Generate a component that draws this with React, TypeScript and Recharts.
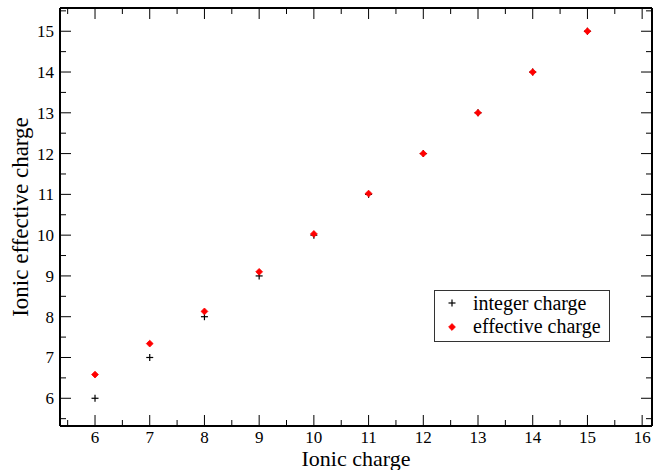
import React from 'react';
import {
  ScatterChart,
  Scatter,
  XAxis,
  YAxis,
  Legend,
  Label
} from 'recharts';

// valeurs
const charges = [6, 7, 8, 9, 10, 11, 12, 13, 14, 15];
const integerCharge = [6, 7, 8, 9, 10, 11, 12, 13, 14, 15];
const effectiveCharge = [6.58, 7.34, 8.13, 9.1, 10.03, 11.02, 12.0, 13.0, 14.0, 15.0];

const xTicks = [5.5, 6, 6.5, 7, 7.5, 8, 8.5, 9, 9.5, 10, 10.5, 11, 11.5, 12, 12.5, 13, 13.5, 14, 14.5, 15, 15.5, 16];
const yTicks = [5.5, 6, 6.5, 7, 7.5, 8, 8.5, 9, 9.5, 10, 10.5, 11, 11.5, 12, 12.5, 13, 13.5, 14, 14.5, 15, 15.5];

const seriesNames = ['integer charge', 'effective charge'];

const integerPoints = charges.map((c, i) => ({ x: c, y: integerCharge[i] }));
const effectivePoints = charges.map((c, i) => ({ x: c, y: effectiveCharge[i] }));

const FONT = '"Liberation Serif", "Times New Roman", serif';
const MAJOR = 11;
const MINOR = 6;
const X_DOMAIN = [5.36, 16.18];
const Y_DOMAIN = [5.32, 15.57];

const tickLen = (v: number) => (Number.isInteger(v) ? MAJOR : MINOR);

const BottomTick = (props: any) => {
  const { x, y, payload } = props;
  const v = payload.value;
  return (
    <g>
      <line x1={x} y1={y} x2={x} y2={y - tickLen(v)} stroke="#000" strokeWidth={1} />
      {Number.isInteger(v) && (
        <text x={x} y={y + 17} textAnchor="middle" fontFamily={FONT} fontSize={17} fill="#000">
          {v}
        </text>
      )}
    </g>
  );
};

const TopTick = (props: any) => {
  const { x, y, payload } = props;
  return <line x1={x} y1={y} x2={x} y2={y + tickLen(payload.value)} stroke="#000" strokeWidth={1} />;
};

const LeftTick = (props: any) => {
  const { x, y, payload } = props;
  const v = payload.value;
  return (
    <g>
      <line x1={x} y1={y} x2={x + tickLen(v)} y2={y} stroke="#000" strokeWidth={1} />
      {Number.isInteger(v) && (
        <text x={x - 6} y={y + 6} textAnchor="end" fontFamily={FONT} fontSize={17} fill="#000">
          {v}
        </text>
      )}
    </g>
  );
};

const RightTick = (props: any) => {
  const { x, y, payload } = props;
  return <line x1={x} y1={y} x2={x - tickLen(payload.value)} y2={y} stroke="#000" strokeWidth={1} />;
};

const PlusShape = (props: any) => {
  const { cx, cy } = props;
  return (
    <g>
      <line x1={cx - 3.5} y1={cy} x2={cx + 3.5} y2={cy} stroke="#000" strokeWidth={1.2} />
      <line x1={cx} y1={cy - 3.5} x2={cx} y2={cy + 3.5} stroke="#000" strokeWidth={1.2} />
    </g>
  );
};

const DiamondShape = (props: any) => {
  const { cx, cy } = props;
  const r = 3.4;
  return (
    <path
      d={`M${cx},${cy - r} L${cx + r},${cy} L${cx},${cy + r} L${cx - r},${cy} Z`}
      fill="#ff0000"
      stroke="#ff0000"
      strokeWidth={0.8}
    />
  );
};

const LegendBox = () => (
  <svg width={176} height={52} style={{ display: 'block' }}>
    <rect x={0.5} y={0.5} width={175} height={51} fill="#fff" stroke="#333" strokeWidth={1} />
    <PlusShape cx={18} cy={13} />
    <text x={39} y={20} fontFamily={FONT} fontSize={20} fill="#000">{seriesNames[0]}</text>
    <DiamondShape cx={18} cy={37} />
    <text x={39} y={43} fontFamily={FONT} fontSize={20} fill="#000">{seriesNames[1]}</text>
  </svg>
);

const YLabel = (props: any) => {
  const { viewBox } = props;
  const x = viewBox.x + 28;
  const y = viewBox.y + viewBox.height / 2;
  return (
    <text
      x={x}
      y={y}
      transform={`rotate(-90, ${x}, ${y})`}
      textAnchor="middle"
      fontFamily={FONT}
      fontSize={23}
      fill="#000"
    >
      Ionic effective charge
    </text>
  );
};

const XLabel = (props: any) => {
  const { viewBox } = props;
  return (
    <text
      x={viewBox.x + viewBox.width / 2}
      y={viewBox.y + 40}
      textAnchor="middle"
      fontFamily={FONT}
      fontSize={22}
      fill="#000"
    >
      Ionic charge
    </text>
  );
};

const axisLine = { stroke: '#000', strokeWidth: 2 };

export default function App() {
  return (
    <div style={{ position: 'absolute', left: 0, top: 0, width: 653, height: 470, background: '#fff' }}>
      <ScatterChart
        width={653}
        height={470}
        margin={{ top: 7, right: 0, bottom: 0, left: 0 }}
        style={{ fontFamily: FONT }}
      >
        <XAxis
          xAxisId="bottom"
          type="number"
          dataKey="x"
          domain={X_DOMAIN}
          allowDataOverflow
          ticks={xTicks}
          interval={0}
          height={44}
          tickSize={0}
          tickMargin={0}
          tickLine={false}
          axisLine={axisLine}
          tick={BottomTick}
        >
          <Label content={XLabel} />
        </XAxis>
        {/* axes miroir haut/droite : taille 1 px sinon recharts ne les dessine pas */}
        <XAxis
          xAxisId="top"
          orientation="top"
          type="number"
          dataKey="x"
          domain={X_DOMAIN}
          allowDataOverflow
          ticks={xTicks}
          interval={0}
          height={1}
          tickSize={0}
          tickMargin={0}
          tickLine={false}
          axisLine={axisLine}
          tick={TopTick}
        />
        <YAxis
          yAxisId="left"
          type="number"
          dataKey="y"
          domain={Y_DOMAIN}
          allowDataOverflow
          ticks={yTicks}
          interval={0}
          width={60}
          tickSize={0}
          tickMargin={0}
          tickLine={false}
          axisLine={axisLine}
          tick={LeftTick}
        >
          <Label content={YLabel} />
        </YAxis>
        <YAxis
          yAxisId="right"
          orientation="right"
          type="number"
          dataKey="y"
          domain={Y_DOMAIN}
          allowDataOverflow
          ticks={yTicks}
          interval={0}
          width={1}
          tickSize={0}
          tickMargin={0}
          tickLine={false}
          axisLine={axisLine}
          tick={RightTick}
        />
        <Legend
          layout="vertical"
          align="center"
          verticalAlign="middle"
          content={LegendBox}
          wrapperStyle={{ position: 'absolute', left: 434, top: 290, width: 176, height: 52 }}
        />
        <Scatter
          name={seriesNames[0]}
          data={integerPoints}
          xAxisId="bottom"
          yAxisId="left"
          shape={PlusShape}
          isAnimationActive={false}
        />
        {/* même domaine : la série rouge porte les axes haut/droite */}
        <Scatter
          name={seriesNames[1]}
          data={effectivePoints}
          xAxisId="top"
          yAxisId="right"
          shape={DiamondShape}
          isAnimationActive={false}
        />
      </ScatterChart>
    </div>
  );
}
